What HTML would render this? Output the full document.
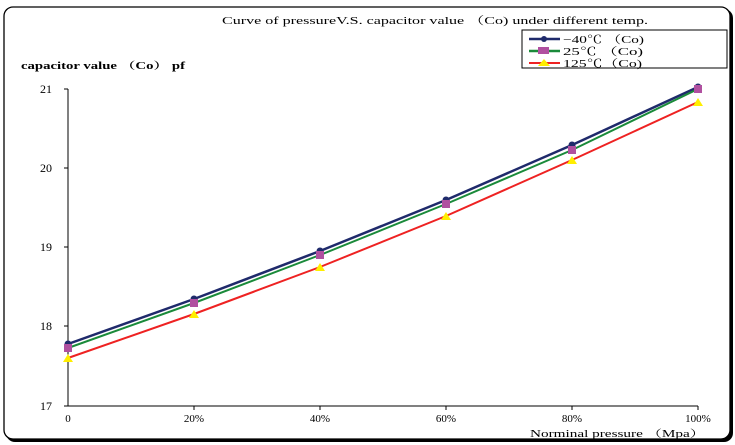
<!DOCTYPE html>
<html><head><style>
body{margin:0;background:#fff;}
svg{display:block;font-family:"Liberation Serif","Noto Serif CJK SC",serif;}
</style></head><body>
<svg width="735" height="445" viewBox="0 0 735 445">
<rect x="6" y="9" width="727" height="433" rx="9" fill="#000"/>
<rect x="4" y="7" width="726" height="432" rx="9" fill="#fff" stroke="#000" stroke-width="1.3"/>
<text x="222" y="24" font-size="11" textLength="426" lengthAdjust="spacingAndGlyphs">Curve of pressureV.S. capacitor value （Co) under different temp.</text>
<text x="21" y="69" font-size="10" font-weight="bold" textLength="164" lengthAdjust="spacingAndGlyphs">capacitor value （Co） pf</text>
<g stroke="#000" stroke-width="1" fill="none">
<path d="M68 89V406H698"/>
<path d="M64 89H68M64 168H68M64 247H68M64 326H68M64 406H68"/>
<path d="M194 406V410M320 406V410M446 406V410M572 406V410M698 406V410"/>
</g>
<g font-size="12" text-anchor="end">
<text x="52" y="93">21</text><text x="52" y="172">20</text><text x="52" y="251">19</text><text x="52" y="330">18</text><text x="52" y="410">17</text>
</g>
<g font-size="11" text-anchor="middle">
<text x="68" y="422">0</text><text x="194" y="422">20%</text><text x="320" y="422">40%</text><text x="446" y="422">60%</text><text x="572" y="422">80%</text><text x="698" y="422">100%</text>
</g>
<text x="530" y="437" font-size="10" textLength="175" lengthAdjust="spacingAndGlyphs">Norminal pressure （Mpa）</text>
<polyline fill="none" stroke="#1f2a6b" stroke-width="2.5" points="68,344 194,299 320,251 446,200 572,145 698,87"/>
<polyline fill="none" stroke="#1a8a3a" stroke-width="2" points="68,348 194,303 320,255 446,204 572,150 698,89"/>
<polyline fill="none" stroke="#ee2222" stroke-width="2" points="68,358 194,314 320,267 446,216 572,160 698,102"/>
<g fill="#1f2a6b">
<circle cx="68" cy="344" r="3.5"/><circle cx="194" cy="299" r="3.5"/><circle cx="320" cy="251" r="3.5"/><circle cx="446" cy="200" r="3.5"/><circle cx="572" cy="145" r="3.5"/><circle cx="698" cy="87" r="3.5"/>
</g>
<g fill="#b050a0">
<rect x="64" y="344" width="8" height="8"/><rect x="190" y="299" width="8" height="8"/><rect x="316" y="251" width="8" height="8"/><rect x="442" y="200" width="8" height="8"/><rect x="568" y="146" width="8" height="8"/><rect x="694" y="85" width="8" height="8"/>
</g>
<g fill="#ffee00">
<path d="M63 362L68 354L73 362Z"/><path d="M189 318L194 310L199 318Z"/><path d="M315 271L320 263L325 271Z"/><path d="M441 220L446 212L451 220Z"/><path d="M567 164L572 156L577 164Z"/><path d="M693 106L698 98L703 106Z"/>
</g>
<rect x="522" y="30" width="205" height="38" fill="#fff" stroke="#000" stroke-width="1"/>
<line x1="529" y1="39" x2="560" y2="39" stroke="#1f2a6b" stroke-width="2.5"/><circle cx="544" cy="39" r="3" fill="#1f2a6b"/>
<line x1="529" y1="51" x2="560" y2="51" stroke="#1a8a3a" stroke-width="2.5"/><rect x="538" y="47" width="11" height="7" fill="#b050a0"/>
<line x1="529" y1="63" x2="560" y2="63" stroke="#ee2222" stroke-width="2"/><path d="M538 66L544 59L550 66Z" fill="#ffee00"/>
<g font-size="11"><text x="563" y="43" textLength="81" lengthAdjust="spacingAndGlyphs">−40℃ （Co)</text><text x="563" y="55" textLength="80" lengthAdjust="spacingAndGlyphs">25℃ （Co)</text><text x="563" y="67" textLength="79" lengthAdjust="spacingAndGlyphs">125℃（Co)</text></g>
</svg>
</body></html>
